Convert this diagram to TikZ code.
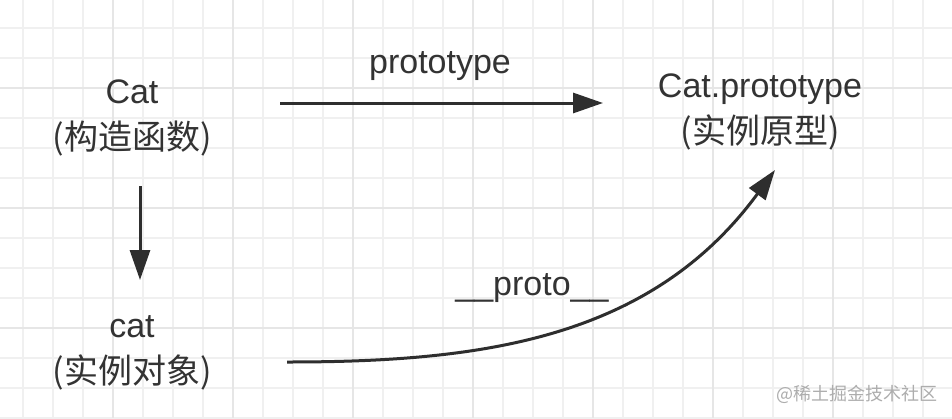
\documentclass[tikz,border=0pt]{standalone}
\usepackage{fontspec}
\setmainfont{Liberation Sans}
\newfontfamily\cjk{Noto Sans CJK SC}
\usetikzlibrary{arrows.meta}
\definecolor{inkgray}{HTML}{333333}
\definecolor{linegray}{HTML}{2E2E2E}
\definecolor{gridthin}{HTML}{F0F0F0}
\definecolor{gridbold}{HTML}{E6E6E6}
\definecolor{markgray}{HTML}{ADADAD}
\tikzset{
  labeltext/.style={text=inkgray, inner sep=0pt, font=\fontsize{17}{23}\selectfont},
  twolines/.style={labeltext, align=center},
  link/.style={draw=linegray, line width=1.5pt, -{Triangle[length=15pt,width=10pt]}},
  thingrid/.style={draw=gridthin, line width=0.75pt},
  boldgrid/.style={draw=gridbold, line width=1pt}
}
\begin{document}
\begin{tikzpicture}[x=0.5pt,y=-0.5pt]
\useasboundingbox[fill=white] (0,0) rectangle (952,418);
% grid paper
\foreach \gx in {23,53,...,953} \draw[thingrid] (\gx,0) -- (\gx,418);
\foreach \gy in {28,58,...,418} \draw[thingrid] (0,\gy) -- (952,\gy);
\foreach \gx in {113,233,...,953} \draw[boldgrid] (\gx,0) -- (\gx,418);
\foreach \gy in {88,208,328} \draw[boldgrid] (0,\gy) -- (952,\gy);
% objects (base = last line)
\node[twolines, anchor=base] (catfn) at (132,149) {Cat\\{\cjk (构造函数)}};
\node[twolines, anchor=base] (proto) at (760,143) {Cat.prototype\\{\cjk (实例原型)}};
\node[twolines, anchor=base] (catobj) at (132,383) {cat\\{\cjk (实例对象)}};
% links
\node[labeltext, anchor=base] (protolabel) at (440,73) {prototype};
\draw[link] ([shift={(148,-46)}]catfn.base) -- ([shift={(-157,-40)}]proto.base);
\draw[link] ([shift={(8,37)}]catfn.base) -- ([shift={(8,-103)}]catobj.base);
\node[labeltext, anchor=base] (dunder) at (532,295) {\_\_proto\_\_};
\draw[link] ([shift={(155,-21)}]catobj.base) .. controls +(193,0) and +(-125,170) .. ([shift={(15,27)}]proto.base);
% watermark
\node[anchor=base, inner sep=0pt, text=markgray, font=\cjk\fontsize{9}{9}\selectfont] (mark) at (857,400) {@稀土掘金技术社区};
\end{tikzpicture}
\end{document}
